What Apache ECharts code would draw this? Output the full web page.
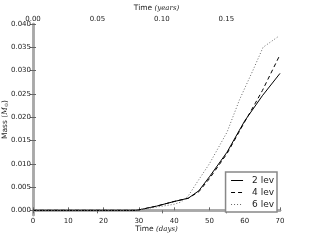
<!DOCTYPE html>
<html><head><meta charset="utf-8">
<script src="https://cdn.jsdelivr.net/npm/echarts@6/dist/echarts.min.js"></script>
<style>html,body{margin:0;padding:0;background:#fff}#c{width:313px;height:240px}</style>
</head><body><div id="c"></div>
<script>
var daysA = [0, 29, 30, 35, 40, 44, 47, 50, 55, 58.5, 60, 65, 70];
var lev2  = [0, 0, 0.0001, 0.0009, 0.0019, 0.0026, 0.0042, 0.0072, 0.0125, 0.0172, 0.0192, 0.0246, 0.0294];
var daysB = [0, 29, 30, 35, 40, 44, 47, 50, 55, 60, 63, 65, 70];
var lev4  = [0, 0, 0.0001, 0.0009, 0.0019, 0.0026, 0.0040, 0.0068, 0.0122, 0.0190, 0.0230, 0.0257, 0.0334];
var daysC = [0, 29, 30, 35, 40, 42, 44, 47, 50, 55, 58.5, 60, 62.3, 65.2, 69.5];
var lev6  = [0, 0, 0.0001, 0.0007, 0.0013, 0.0018, 0.0031, 0.0066, 0.0100, 0.0168, 0.0237, 0.0262, 0.0300, 0.0350, 0.0373];
var names = ['2 lev', '4 lev', '6 lev'];
var yTicks = [0, 0.005, 0.01, 0.015, 0.02, 0.025, 0.03, 0.035, 0.04];
var daysPerYear = 365.25;

function pairs(xs, ys){ return xs.map(function(x,i){ return [x, ys[i]]; }); }
var axisCol = '#a8a8a8';
var lab = {fontSize: 7, color: '#222', fontFamily: 'DejaVu Sans'};
var chart = echarts.init(document.getElementById('c'));
chart.setOption({
  animation: false,
  grid: {left: 33, right: 33, top: 24, bottom: 25, outerBoundsMode: 'none', containLabel: false},
  xAxis: [{
    type: 'value', position: 'bottom', min: 0, max: 70, interval: 10,
    axisLine: {lineStyle: {color: axisCol, width: 2.5}},
    axisTick: {inside: true, length: 3, lineStyle: {color: '#666'}},
    axisLabel: Object.assign({margin: 3}, lab),
    splitLine: {show: false},
    name: '{a|Time }{b|(days)}', nameLocation: 'middle', nameGap: 10, nameMoveOverlap: false,
    nameTextStyle: {rich: {a: {fontSize: 7.5, color: '#222', fontFamily: 'DejaVu Sans'}, b: {fontSize: 7, fontStyle: 'italic', color: '#222', fontFamily: 'DejaVu Serif'}}}
  }, {
    type: 'value', position: 'top', min: 0, max: 70 / daysPerYear, interval: 0.05,
    axisLine: {lineStyle: {color: axisCol, width: 2.5}},
    axisTick: {inside: true, length: 3, lineStyle: {color: '#666'}},
    axisLabel: Object.assign({margin: 1, formatter: function(v){ return v.toFixed(2); }, showMaxLabel: false}, lab),
    splitLine: {show: false},
    name: '{a|Time }{b|(years)}', nameLocation: 'middle', nameGap: 12, nameMoveOverlap: false,
    nameTextStyle: {rich: {a: {fontSize: 7.5, color: '#222', fontFamily: 'DejaVu Sans'}, b: {fontSize: 7, fontStyle: 'italic', color: '#222', fontFamily: 'DejaVu Serif'}}}
  }],
  yAxis: [{
    type: 'value', position: 'left', min: -0.001, max: 0.04,
    axisLine: {lineStyle: {color: axisCol, width: 2.5}},
    axisTick: {inside: true, length: 3, lineStyle: {color: '#666'}, customValues: yTicks},
    axisLabel: Object.assign({margin: 2, formatter: function(v){ return v.toFixed(3); }, customValues: yTicks}, lab),
    splitLine: {show: false},
    name: '{a|Mass (}{i|M}{s|⊙}{a|)}', nameLocation: 'middle', nameGap: 24, nameMoveOverlap: false,
    nameTextStyle: {rich: {a: {fontSize: 7.5, color: '#222', fontFamily: 'DejaVu Sans'}, i: {fontSize: 7.5, fontStyle: 'italic', color: '#222', fontFamily: 'DejaVu Serif'}, s: {fontSize: 5, color: '#222', fontFamily: 'DejaVu Sans', verticalAlign: 'bottom', padding: [3,0,0,0]}}}
  }, {
    type: 'value', position: 'right', min: -0.001, max: 0.04,
    axisLine: {show: true, lineStyle: {color: axisCol, width: 2.5}},
    axisTick: {inside: true, length: 3, lineStyle: {color: '#666'}, customValues: yTicks},
    axisLabel: {show: false}, splitLine: {show: false}
  }],
  legend: {
    orient: 'vertical', right: 36, bottom: 28, padding: [4, 3, 3, 5],
    borderColor: '#888', borderWidth: 1.5, backgroundColor: '#fff',
    itemWidth: 12, itemHeight: 8, itemGap: 3,
    itemStyle: {color: 'transparent', borderWidth: 0, opacity: 0},
    lineStyle: {width: 1},
    textStyle: {fontSize: 9, color: '#222', fontFamily: 'DejaVu Sans', padding: [0, 0, 0, 4]},
    data: names
  },
  series: [
    {name: names[0], type: 'line', data: pairs(daysA, lev2), symbol: 'none', xAxisIndex: 0, yAxisIndex: 0,
     lineStyle: {color: '#000', width: 1, type: 'solid'}, itemStyle: {color: '#000'}},
    {name: names[1], type: 'line', data: pairs(daysB, lev4), symbol: 'none', xAxisIndex: 0, yAxisIndex: 0,
     lineStyle: {color: '#000', width: 1, type: [4, 3]}, itemStyle: {color: '#000'}},
    {name: names[2], type: 'line', data: pairs(daysC, lev6), symbol: 'none', xAxisIndex: 0, yAxisIndex: 0,
     lineStyle: {color: '#666', width: 1, type: [1, 2]}, itemStyle: {color: '#666'}}
  ]
});
</script></body></html>
